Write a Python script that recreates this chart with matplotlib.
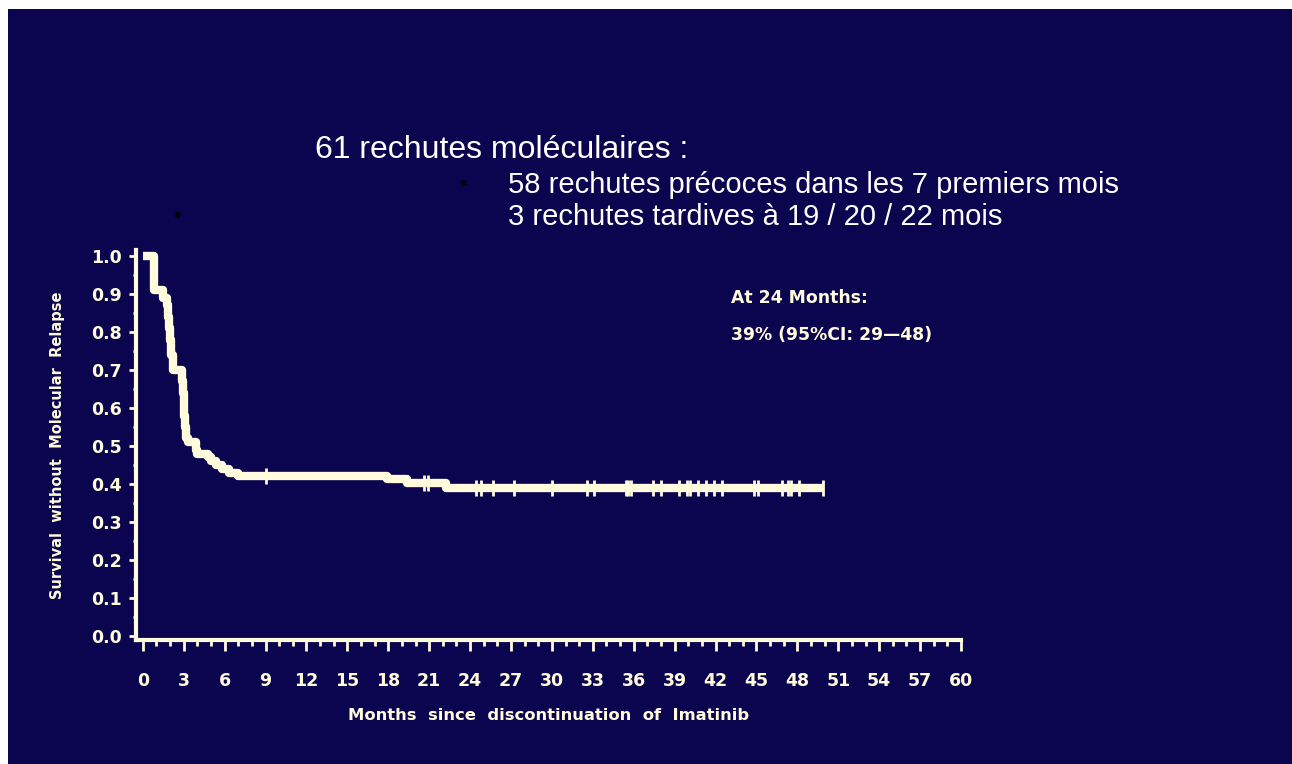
import numpy as np
import matplotlib
matplotlib.use("Agg")
import matplotlib.pyplot as plt
from matplotlib.patches import Rectangle

# Kaplan-Meier step points: time of each drop (months) and survival after it
event_times = [0.0, 0.85, 1.5, 1.75, 1.85, 1.95, 2.0, 2.1, 2.2,
               2.9, 2.95, 3.0, 3.05, 3.1, 3.2, 3.3,
               3.9, 4.0, 4.8, 5.0, 5.4, 5.8, 6.3, 7.0,
               17.9, 19.4, 22.2]
survival = [1.00, 0.91, 0.89, 0.87, 0.84, 0.81, 0.78, 0.74, 0.70,
            0.67, 0.64, 0.61, 0.58, 0.55, 0.52, 0.51,
            0.49, 0.48, 0.47, 0.46, 0.45, 0.44, 0.43, 0.42,
            0.413, 0.403, 0.39]
end_time = 49.9

# censored observations (months)
censor_times = [9.0, 20.6, 20.9, 24.4, 24.8, 25.7, 27.2, 30.0, 32.6, 33.1,
                35.4, 35.6, 35.8, 37.4, 38.0, 39.3, 39.9, 40.1, 40.7, 41.3,
                41.9, 42.5, 44.8, 45.1, 46.9, 47.3, 47.5, 48.1, 49.9]

x_ticks = list(range(0, 61, 3))
y_ticks = [round(0.1 * i, 1) for i in range(11)]

title_line = "61 rechutes moléculaires :"
bullet_lines = ["58 rechutes précoces dans les 7 premiers mois",
                "3 rechutes tardives à 19 / 20 / 22 mois"]
note_lines = ["At 24 Months:", "39% (95%CI: 29\u201448)"]

navy = "#0A054E"
cream = "#FFFBDC"

fig = plt.figure(figsize=(12.92, 7.64), dpi=100, facecolor="white")
fig.patches.append(Rectangle((8 / 1292, 0), 1, 1 - 9 / 764,
                             transform=fig.transFigure, facecolor=navy,
                             edgecolor="none", zorder=-10))

ax = fig.add_axes([136 / 1292, 1 - 640 / 764, (961 - 136) / 1292, (640 - 250) / 764])
ax.set_zorder(5)
ax.patch.set_alpha(0)

# survival curve
xs = list(event_times) + [end_time]
ys = list(survival) + [survival[-1]]
ax.step(xs, ys, where="post", color=cream, lw=6.0, solid_joinstyle="round",
        solid_capstyle="butt", zorder=3)

# censor marks placed on the curve
times_arr = np.array(event_times)
surv_arr = np.array(survival)
cy = [surv_arr[np.searchsorted(times_arr, t, side="right") - 1] for t in censor_times]
ax.plot(censor_times, cy, linestyle="none", marker="|", markersize=11,
        markeredgewidth=2.0, color=cream, zorder=4)

ax.set_xlim(-0.5, 60)
ax.set_ylim(-0.011, 1.016)

for side in ["top", "right"]:
    ax.spines[side].set_visible(False)
for side in ["left", "bottom"]:
    ax.spines[side].set_color(cream)
    ax.spines[side].set_linewidth(3.0)
ax.spines["bottom"].set_bounds(-0.5, 60)

ax.set_xticks(x_ticks)
ax.set_xticks(range(0, 61), minor=True)
ax.set_yticks(y_ticks)
ax.set_yticks(np.arange(0, 1.001, 0.05), minor=True)
ax.set_yticklabels([f"{v:.1f}" for v in y_ticks])

ax.tick_params(axis="x", which="major", length=8, width=2, color=cream,
               pad=15, labelcolor=cream)
ax.tick_params(axis="x", which="minor", length=4.5, width=2, color=cream)
ax.tick_params(axis="y", which="major", length=5, width=2, color=cream,
               pad=5, labelcolor=cream)
ax.tick_params(axis="y", which="minor", length=2.5, width=2, color=cream)
for lab in ax.get_xticklabels() + ax.get_yticklabels():
    lab.set_fontfamily("DejaVu Sans")
    lab.set_fontweight("bold")
    lab.set_fontsize(12.5)

ax.set_xlabel("Months  since  discontinuation  of  Imatinib", color=cream,
              fontsize=11.8, fontweight="bold", family="DejaVu Sans", labelpad=13)
ax.set_ylabel("Survival  without  Molecular  Relapse", color=cream,
              fontsize=10.5, fontweight="bold", family="DejaVu Sans", labelpad=19)

# summary note at 24 months
fig.text(731 / 1292, 1 - 298 / 764, note_lines[0], color=cream, fontsize=12.4,
         fontweight="bold", family="DejaVu Sans", va="center", ha="left")
fig.text(731 / 1292, 1 - 335 / 764, note_lines[1], color=cream, fontsize=12.4,
         fontweight="bold", family="DejaVu Sans", va="center", ha="left")

# heading and bullet points
fig.text(315 / 1292, 1 - 150 / 764, title_line, color="white", fontsize=23,
         family="Liberation Sans", va="center", ha="left")
fig.text(508 / 1292, 1 - 185 / 764, bullet_lines[0], color="white", fontsize=21,
         family="Liberation Sans", va="center", ha="left")
fig.text(508 / 1292, 1 - 217 / 764, bullet_lines[1], color="white", fontsize=21,
         family="Liberation Sans", va="center", ha="left")
fig.text(463 / 1292, 1 - 185 / 764, "\u2022", color="black", fontsize=15,
         family="Liberation Sans", va="center", ha="center")
fig.text(177 / 1292, 1 - 217 / 764, "\u2022", color="black", fontsize=15,
         family="Liberation Sans", va="center", ha="center")

fig.savefig("out.png", dpi=100, facecolor="white")
